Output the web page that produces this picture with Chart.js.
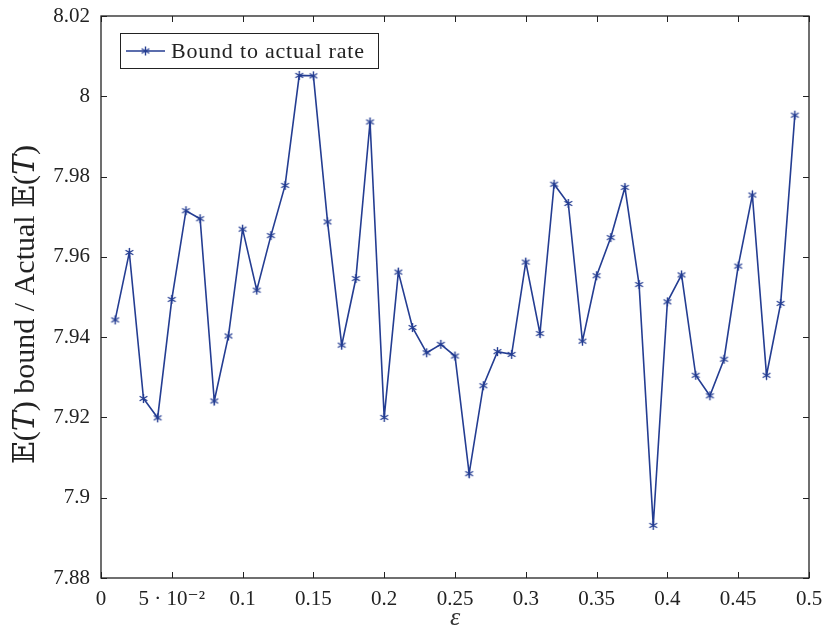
<!DOCTYPE html>
<html>
<head>
<meta charset="utf-8">
<script src="https://cdn.jsdelivr.net/npm/chart.js@4.4.1/dist/chart.umd.min.js"></script>
<style>
  html, body { margin: 0; padding: 0; background: #fff; }
  #wrap { width: 825px; height: 635px; }
</style>
</head>
<body>
<div id="wrap"><canvas id="chart"></canvas></div>
<script>
// epsilon values and ratio of bound to actual E(T)
const epsilons = [
  0.01, 0.02, 0.03, 0.04, 0.05, 0.06, 0.07, 0.08, 0.09, 0.10,
  0.11, 0.12, 0.13, 0.14, 0.15, 0.16, 0.17, 0.18, 0.19, 0.20,
  0.21, 0.22, 0.23, 0.24, 0.25, 0.26, 0.27, 0.28, 0.29, 0.30,
  0.31, 0.32, 0.33, 0.34, 0.35, 0.36, 0.37, 0.38, 0.39, 0.40,
  0.41, 0.42, 0.43, 0.44, 0.45, 0.46, 0.47, 0.48, 0.49
];
const ratios = [
  7.9443, 7.9611, 7.9247, 7.9199, 7.9494, 7.9715, 7.9695, 7.9241, 7.9403, 7.9669,
  7.9517, 7.9653, 7.9778, 8.0052, 8.0051, 7.9687, 7.9380, 7.9546, 7.9936, 7.9200,
  7.9562, 7.9424, 7.9361, 7.9382, 7.9353, 7.9060, 7.9279, 7.9364, 7.9357, 7.9587,
  7.9409, 7.9781, 7.9733, 7.9390, 7.9553, 7.9648, 7.9773, 7.9531, 7.8931, 7.9488,
  7.9555, 7.9305, 7.9254, 7.9345, 7.9577, 7.9754, 7.9305, 7.9484, 7.9953
];
const xTicks = [0, 0.05, 0.1, 0.15, 0.2, 0.25, 0.3, 0.35, 0.4, 0.45, 0.5];
const yTicks = [7.88, 7.9, 7.92, 7.94, 7.96, 7.98, 8, 8.02];

const blue = '#243d92';
const serif = "'Liberation Serif', 'DejaVu Serif', serif";

// six-armed asterisk mark like pgfplots
function asterisk(r, color) {
  const c = document.createElement('canvas');
  const s = Math.ceil(r * 2 + 2);
  c.width = s; c.height = s;
  const g = c.getContext('2d');
  g.strokeStyle = color;
  g.lineWidth = 1.4;
  g.beginPath();
  for (let i = 0; i < 3; i++) {
    const a = Math.PI / 2 + i * Math.PI / 3;
    g.moveTo(s / 2 + r * Math.cos(a), s / 2 + r * Math.sin(a));
    g.lineTo(s / 2 - r * Math.cos(a), s / 2 - r * Math.sin(a));
  }
  g.stroke();
  return c;
}
const mark = asterisk(4.5, blue);

// frame + inward ticks on all four sides
const framePlugin = {
  id: 'frame',
  afterDraw(chart) {
    const { ctx, chartArea: a, scales } = chart;
    ctx.save();
    ctx.strokeStyle = '#222';
    ctx.lineWidth = 1;
    ctx.beginPath();
    xTicks.forEach(v => {
      const px = Math.round(scales.x.getPixelForValue(v)) + 0.5;
      ctx.moveTo(px, a.bottom); ctx.lineTo(px, a.bottom - 6);
      ctx.moveTo(px, a.top); ctx.lineTo(px, a.top + 6);
    });
    yTicks.forEach(v => {
      const py = Math.round(scales.y.getPixelForValue(v)) + 0.5;
      ctx.moveTo(a.left, py); ctx.lineTo(a.left + 6, py);
      ctx.moveTo(a.right, py); ctx.lineTo(a.right - 6, py);
    });
    ctx.stroke();
    ctx.lineWidth = 1.3;
    ctx.strokeRect(a.left, a.top, a.right - a.left, a.bottom - a.top);
    ctx.restore();
  }
};

// legend box in the upper left corner of the plot
const legendPlugin = {
  id: 'boxLegend',
  afterDraw(chart) {
    const { ctx, chartArea: a } = chart;
    const ds = chart.data.datasets[0];
    const x = a.left + 19, y = a.top + 17, w = 258, h = 35;
    ctx.save();
    ctx.fillStyle = '#fff';
    ctx.fillRect(x, y, w, h);
    ctx.strokeStyle = '#222';
    ctx.lineWidth = 1;
    ctx.strokeRect(x + 0.5, y + 0.5, w, h);
    const cy = y + h / 2 + 0.5;
    ctx.strokeStyle = ds.borderColor;
    ctx.lineWidth = ds.borderWidth;
    ctx.beginPath();
    ctx.moveTo(x + 6, cy); ctx.lineTo(x + 45, cy);
    ctx.stroke();
    ctx.drawImage(mark, x + 25.5 - mark.width / 2, cy - mark.height / 2);
    ctx.fillStyle = '#222';
    ctx.font = '22px ' + serif;
    ctx.letterSpacing = '0.8px';
    ctx.textBaseline = 'middle';
    ctx.fillText(ds.label, x + 51, cy + 1);
    ctx.restore();
  }
};

const fmt = v => {
  const r = Math.round(v * 100) / 100;
  return r === 0.05 ? '5 \u00b7 10\u207b\u00b2' : String(r);
};

new Chart(document.getElementById('chart'), {
  type: 'line',
  data: {
    datasets: [{
      label: 'Bound to actual rate',
      data: epsilons.map((e, i) => ({ x: e, y: ratios[i] })),
      borderColor: blue,
      borderWidth: 1.6,
      pointStyle: mark,
      pointRadius: 4.5,
      tension: 0,
      fill: false
    }]
  },
  options: {
    responsive: true,
    maintainAspectRatio: false,
    animation: false,
    layout: { padding: { top: 16, right: 16, left: 0, bottom: 0 } },
    plugins: { legend: { display: false }, tooltip: { enabled: false } },
    scales: {
      x: {
        type: 'linear',
        min: 0, max: 0.5,
        afterBuildTicks: s => { s.ticks = xTicks.map(v => ({ value: v })); },
        afterFit: s => { s.height = 57; },
        grid: { display: false },
        border: { display: false },
        ticks: { color: '#222', font: { family: serif, size: 21 }, padding: 1, maxRotation: 0, autoSkip: false, callback: fmt },
        title: { display: true, text: '\u03b5', color: '#333', font: { family: serif, size: 26, style: 'italic' }, padding: { top: 0, bottom: 1 } }
      },
      y: {
        min: 7.88, max: 8.02,
        afterBuildTicks: s => { s.ticks = yTicks.map(v => ({ value: v })); },
        afterFit: s => { s.width = 101; },
        grid: { display: false },
        border: { display: false },
        ticks: { color: '#222', font: { family: serif, size: 21 }, padding: 3, callback: fmt },
        title: { display: true, text: '\ud835\udd3c(\ud835\udc47) bound / Actual \ud835\udd3c(\ud835\udc47)\u2002', color: '#222', font: { family: serif, size: 30 }, padding: { top: 8, bottom: 0 } }
      }
    }
  },
  plugins: [framePlugin, legendPlugin]
});
</script>
</body>
</html>
